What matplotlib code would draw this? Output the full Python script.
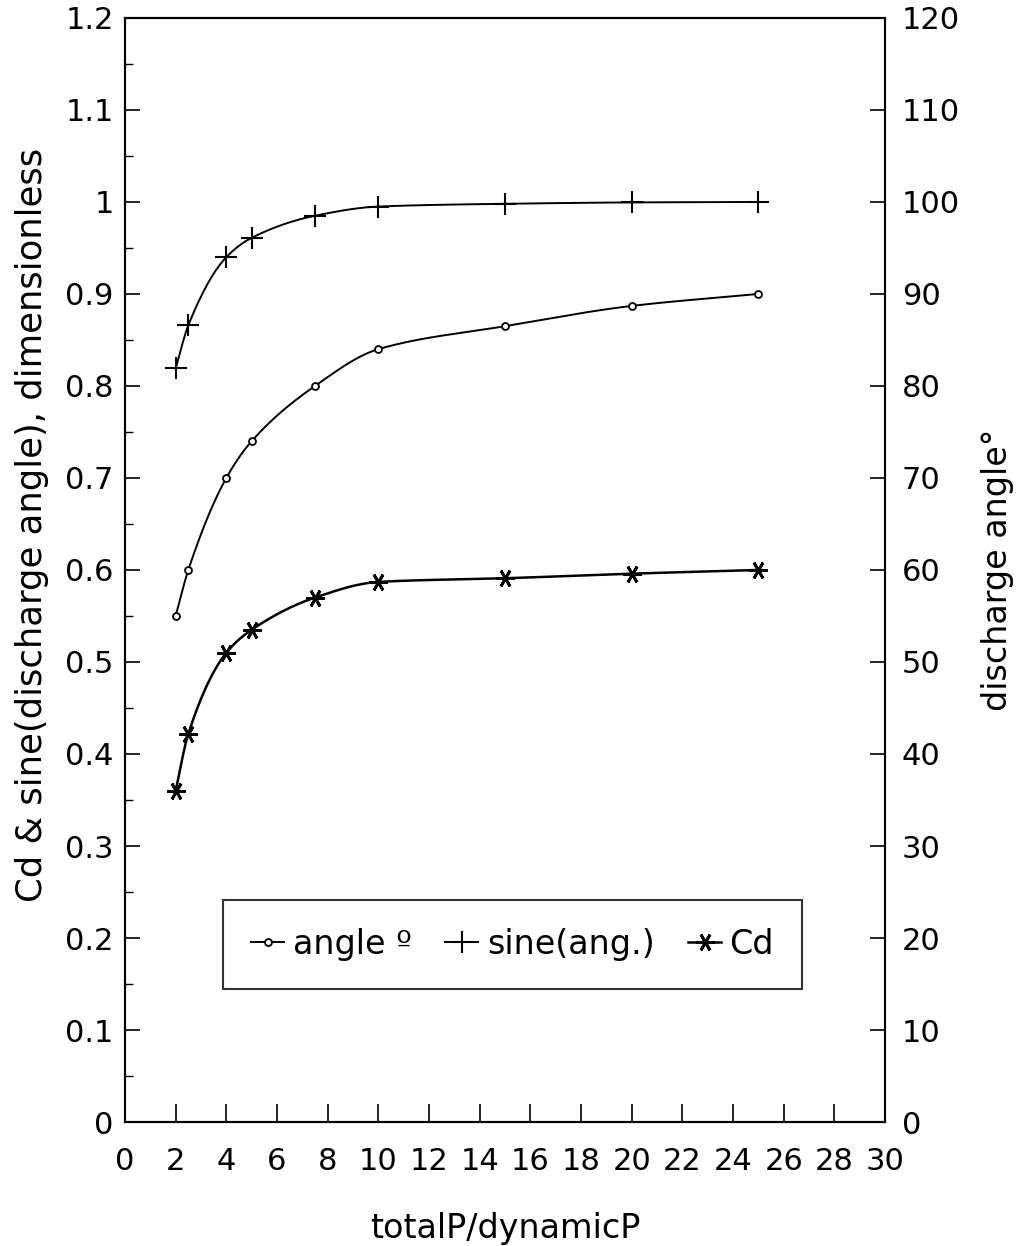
import numpy as np
import matplotlib
matplotlib.use("Agg")
import matplotlib.pyplot as plt
from matplotlib.ticker import MultipleLocator, FuncFormatter
from matplotlib.lines import Line2D

plt.rcParams['font.family'] = ['DejaVu Sans']

# Data
ratio = [2, 2.5, 4, 5, 7.5, 10, 15, 20, 25]
angle_deg = [55, 60, 70, 74, 80, 84, 86.5, 88.7, 90]
sine_ang = [0.819, 0.866, 0.940, 0.961, 0.985, 0.995, 0.998, 0.9995, 1.0]
cd = [0.36, 0.422, 0.51, 0.535, 0.57, 0.587, 0.591, 0.596, 0.60]

x_ticks = list(range(0, 31, 2))
legend_labels = ['angle º', 'sine(ang.)', 'Cd']


def pchip(x, y, n=400):
    x = np.asarray(x, float); y = np.asarray(y, float)
    h = np.diff(x); d = np.diff(y) / h
    m = np.zeros_like(y)
    for k in range(1, len(x) - 1):
        if d[k - 1] * d[k] > 0:
            w1 = 2 * h[k] + h[k - 1]; w2 = h[k] + 2 * h[k - 1]
            m[k] = (w1 + w2) / (w1 / d[k - 1] + w2 / d[k])
    m[0] = d[0]; m[-1] = d[-1]
    xs = np.linspace(x[0], x[-1], n)
    idx = np.clip(np.searchsorted(x, xs) - 1, 0, len(x) - 2)
    t = (xs - x[idx]) / h[idx]
    h00 = 2 * t**3 - 3 * t**2 + 1; h10 = t**3 - 2 * t**2 + t
    h01 = -2 * t**3 + 3 * t**2; h11 = t**3 - t**2
    ys = h00 * y[idx] + h10 * h[idx] * m[idx] + h01 * y[idx + 1] + h11 * h[idx] * m[idx + 1]
    return xs, ys


fig = plt.figure(figsize=(10.26, 12.46), dpi=100)
ax = fig.add_axes([0.1218, 0.0995, 0.7408, 0.8861])
ax2 = ax.twinx()

ast = (6, 2, 90)
sty_sine = dict(marker='+', ms=16, mew=1.5)
sty_cd = dict(marker=ast, ms=13, mew=2.0)
sty_ang = dict(marker='o', ms=5, mew=1.3, mfc='white')

xs, ys = pchip(ratio, sine_ang)
ax.plot(xs, ys, color='black', lw=1.4)
ax.plot(ratio, sine_ang, ls='none', color='black', **sty_sine)
xs, ys = pchip(ratio, cd)
ax.plot(xs, ys, color='black', lw=1.8)
ax.plot(ratio, cd, ls='none', color='black', **sty_cd)
xs, ys = pchip(ratio, angle_deg)
ax2.plot(xs, ys, color='black', lw=1.4)
ax2.plot(ratio, angle_deg, ls='none', color='black', **sty_ang)

ax.set_xlim(0, 30)
ax.set_ylim(0, 1.2)
ax2.set_ylim(0, 120)
ax.set_xticks(x_ticks)
ax.yaxis.set_major_locator(MultipleLocator(0.1))
ax.yaxis.set_minor_locator(MultipleLocator(0.05))
ax.yaxis.set_major_formatter(FuncFormatter(
    lambda v, p: "0" if abs(v) < 1e-9 else f"{v:.1f}".rstrip('0').rstrip('.')))
ax2.yaxis.set_major_locator(MultipleLocator(10))

ax.tick_params(axis='y', which='major', direction='in', length=11, width=1.2,
               labelsize=22, pad=8)
ax.tick_params(axis='y', which='minor', direction='in', length=6, width=1.0)
ax.tick_params(axis='x', which='major', direction='in', length=13, width=1.2,
               labelsize=22, pad=18)
ax2.tick_params(axis='y', which='major', direction='in', length=11, width=1.2,
                labelsize=22, pad=12)
for a in (ax, ax2):
    for s in a.spines.values():
        s.set_linewidth(1.5)

ax.set_xlabel('totalP/dynamicP', fontsize=24, labelpad=26)
ax.set_ylabel('Cd & sine(discharge angle), dimensionless', fontsize=25.5, labelpad=8)
ax.yaxis.set_label_coords(-0.1, 0.541)
ax2.set_ylabel('discharge angle°', fontsize=24, labelpad=15)

handles = [
    Line2D([], [], color='black', lw=1.4, **sty_ang),
    Line2D([], [], color='black', lw=1.4, **sty_sine),
    Line2D([], [], color='black', lw=1.8, **sty_cd),
]
leg = ax.legend(handles, legend_labels, ncol=3,
                loc='center', bbox_to_anchor=(0.51, 0.1608),
                fontsize=24, frameon=True, fancybox=False,
                handlelength=1.0, handletextpad=0.25, columnspacing=1.0,
                borderaxespad=0, borderpad=0.85)
leg.get_frame().set_edgecolor('black')
leg.get_frame().set_linewidth(1.5)

fig.savefig('out.png', dpi=100)
